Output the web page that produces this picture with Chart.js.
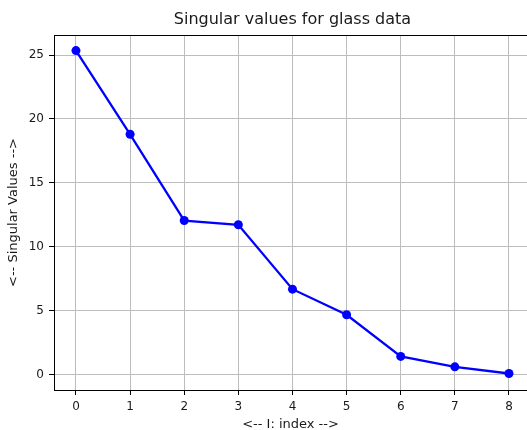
<!DOCTYPE html>
<html>
<head>
<meta charset="utf-8">
<script src="https://cdn.jsdelivr.net/npm/chart.js@4"></script>
<style>
  html, body { margin: 0; padding: 0; background: #fff; overflow: hidden; }
  #svChart { display: block; }
</style>
</head>
<body>
<canvas id="svChart" width="527" height="430"></canvas>
<script>
const indexes = [0, 1, 2, 3, 4, 5, 6, 7, 8];
const singularValues = [25.35, 18.8, 12.05, 11.72, 6.68, 4.68, 1.42, 0.6, 0.08];
const xTicks = [0, 1, 2, 3, 4, 5, 6, 7, 8];
const yTicks = [0, 5, 10, 15, 20, 25];
const chartTitle = 'Singular values for glass data';

const FONT = 'DejaVu Sans';
const gridColor = '#bdbdbd';
const textColor = '#1a1a1a';

// top spine + title; the right spine of the original falls just outside the picture
const frame = {
  id: 'frame',
  afterDraw(chart) {
    const { ctx, chartArea: a } = chart;
    ctx.save();
    ctx.strokeStyle = '#000';
    ctx.lineWidth = 1;
    ctx.beginPath();
    ctx.moveTo(a.left, a.top + 0.5);
    ctx.lineTo(a.right, a.top + 0.5);
    ctx.stroke();
    ctx.fillStyle = textColor;
    ctx.font = '16px "' + FONT + '"';
    ctx.textAlign = 'center';
    ctx.textBaseline = 'middle';
    ctx.fillText(chartTitle, chart.scales.x.getPixelForValue(4), 20);
    ctx.restore();
  },
};

new Chart(document.getElementById('svChart'), {
  type: 'line',
  data: {
    datasets: [{
      data: indexes.map((x, i) => ({ x, y: singularValues[i] })),
      borderColor: '#0000ff',
      backgroundColor: '#0000ff',
      borderWidth: 2.3,
      pointRadius: 4.5,
      pointHoverRadius: 4.5,
      pointBorderWidth: 0,
      tension: 0,
      fill: false,
      clip: false,
    }],
  },
  options: {
    responsive: false,
    animation: false,
    layout: { autoPadding: false, padding: { top: 35, right: 0, bottom: 0, left: 0 } },
    plugins: {
      legend: { display: false },
      tooltip: { enabled: false },
      title: { display: false },
    },
    scales: {
      x: {
        type: 'linear',
        min: -0.406,
        max: 8.333,
        afterBuildTicks: (s) => { s.ticks = xTicks.map((v) => ({ value: v })); },
        afterFit: (s) => { s.height = 40; s.paddingLeft = 0; s.paddingRight = 0; },
        border: { color: '#000', width: 1 },
        grid: { color: gridColor, lineWidth: 1, tickLength: 5, tickColor: '#000' },
        ticks: { color: textColor, font: { family: FONT, size: 12 }, padding: 5, maxRotation: 0 },
        title: {
          display: true,
          text: '<-- I: index -->',
          color: textColor,
          font: { family: FONT, size: 13 },
          padding: { top: 0, bottom: -2 },
        },
      },
      y: {
        type: 'linear',
        min: -1.21,
        max: 26.57,
        afterBuildTicks: (s) => { s.ticks = yTicks.map((v) => ({ value: v })); },
        afterFit: (s) => { s.width = 54; s.paddingTop = 0; s.paddingBottom = 0; },
        border: { color: '#000', width: 1 },
        grid: { color: gridColor, lineWidth: 1, tickLength: 5, tickColor: '#000' },
        ticks: { color: textColor, font: { family: FONT, size: 12 }, padding: 5 },
        title: {
          display: true,
          text: '<-- Singular Values -->',
          color: textColor,
          font: { family: FONT, size: 13 },
          padding: { top: 6, bottom: 2 },
        },
      },
    },
  },
  plugins: [frame],
});
</script>
</body>
</html>
